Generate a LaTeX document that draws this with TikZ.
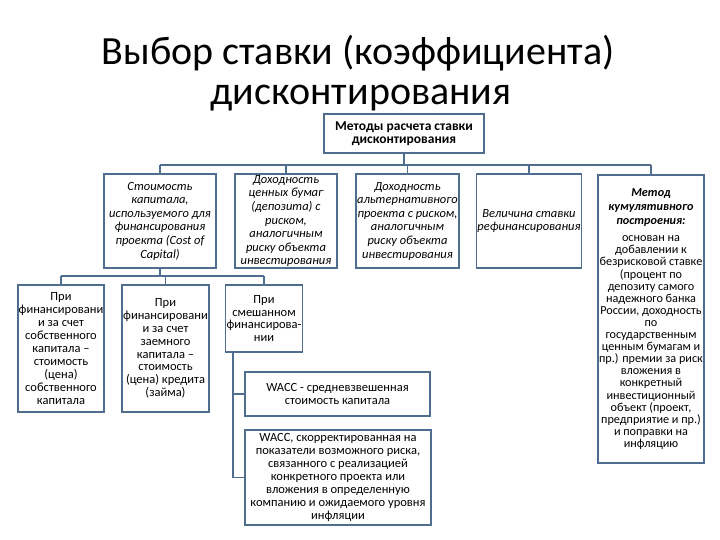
\documentclass[tikz,border=0pt]{standalone}
\usepackage{fontspec}
\setmainfont{Carlito}
\definecolor{bc}{HTML}{4F6D8F}
\newcommand\fsTitle{\fontsize{40}{40}\selectfont}
\newcommand\fsTop{\fontsize{13.5}{13}\selectfont\bfseries}
\newcommand\fsRow{\fontsize{12.5}{13.6}\selectfont\itshape}
\newcommand\fsLow{\fontsize{12.5}{12.9}\selectfont}
\newcommand\fsCum{\fontsize{12.2}{12.1}\selectfont}
\newcommand\bi[1]{\textbf{\textit{#1}}}
\begin{document}
\begin{tikzpicture}[x=1pt,y=-1pt,
  box/.style={draw=bc, line width=1.8pt, align=center, inner sep=1pt, text=black, fill=white},
  conn/.style={draw=bc, line width=1.8pt}]
\useasboundingbox (0,0) rectangle (720,540);
% title
\node[anchor=base, font=\fsTitle] (t1) at (358,65) {Выбор ставки (коэффициента)};
\node[anchor=base, font=\fsTitle] (t2) at (361,105) {дисконтирования};
% top
\node[box, minimum width=160pt, minimum height=39pt, font=\fsTop] (top) at (404,133.5) {Методы расчета ставки\\дисконтирования};
% row
\node[box, minimum width=112pt, minimum height=94pt, font=\fsRow] (b1) at (160,221) {Стоимость\\капитала,\\используемого для\\финансирования\\проекта (Cost of\\Capital)};
\node[box, minimum width=102pt, minimum height=94pt, font=\fsRow] (b2) at (286,221) {Доходность\\ценных бумаг\\(депозита) с\\риском,\\аналогичным\\риску объекта\\инвестирования};
\node[box, minimum width=103pt, minimum height=94pt, font=\fsRow] (b3) at (407.5,221) {Доходность\\альтернативного\\проекта с риском,\\аналогичным\\риску объекта\\инвестирования};
\node[box, minimum width=104pt, minimum height=94pt, font=\fsRow] (b4) at (529,221) {Величина ставки\\рефинансирования};
\node[box, minimum width=104pt, minimum height=288pt, font=\fsCum] (b5) at (651,319) {\bi{Метод}\\[2pt]\bi{кумулятивного}\\[2pt]\bi{построения:}\\[5pt]основан на\\добавлении к\\безрисковой ставке\\(процент по\\депозиту самого\\надежного банка\\России, доходность\\по\\государственным\\ценным бумагам и\\пр.) премии за риск\\вложения в\\конкретный\\инвестиционный\\объект (проект,\\предприятие и пр.)\\и поправки на\\инфляцию};
% lower
\node[box, minimum width=86pt, minimum height=127pt, font=\fsLow] (l1) at (61,348.5) {При\\финансировани\\и за счет\\собственного\\капитала –\\стоимость\\(цена)\\собственного\\капитала};
\node[box, minimum width=87pt, minimum height=127pt, font=\fsLow] (l2) at (165.5,348.5) {При\\финансировани\\и за счет\\заемного\\капитала –\\стоимость\\(цена) кредита\\(займа)};
\node[box, minimum width=76pt, minimum height=67pt, font=\fsLow] (l3) at (264,318.5) {При\\смешанном\\финансирова-\\нии};
\node[box, minimum width=185pt, minimum height=44pt, font=\fsLow] (w1) at (337.5,394) {WACC - средневзвешенная\\стоимость капитала};
\node[box, minimum width=186pt, minimum height=95pt, font=\fsLow] (w2) at (338,477.5) {WACC, скорректированная на\\показатели возможного риска,\\связанного с реализацией\\конкретного проекта или\\вложения в определенную\\компанию и ожидаемого уровня\\инфляции};
% connectors
\coordinate (hb) at (0,165);
\coordinate (lb) at (0,276);
\draw[conn] (top.south) -- (top.south |- hb);
\draw[conn] (b1.north |- hb) -- (b5.north |- hb);
\foreach \n in {b1,b2,b3,b4,b5} \draw[conn] (\n.north) -- (\n.north |- hb);
\draw[conn] (b1.south) -- (b1.south |- lb);
\draw[conn] (l1.north |- lb) -- (l3.north |- lb);
\foreach \n in {l1,l2,l3} \draw[conn] (\n.north) -- (\n.north |- lb);
\draw[conn] ([xshift=8pt]l3.south west) |- (w1.west);
\draw[conn] ([xshift=8pt]l3.south west) |- (w2.west);
\end{tikzpicture}
\end{document}
